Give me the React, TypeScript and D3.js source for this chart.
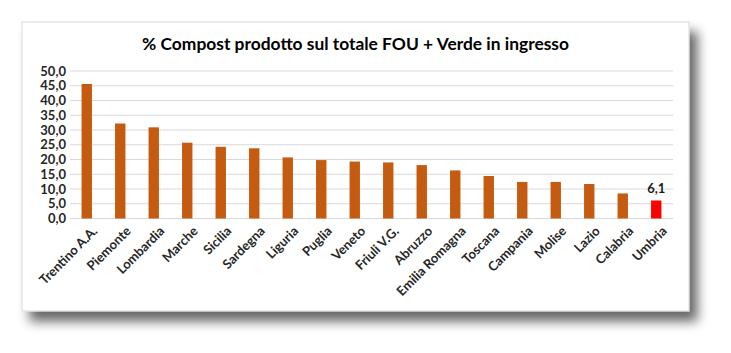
import React from "react";
import * as d3 from "d3";

const categories = [
  "Trentino A.A.", "Piemonte", "Lombardia", "Marche", "Sicilia", "Sardegna", "Liguria", "Puglia",
  "Veneto", "Friuli V.G.", "Abruzzo", "Emilia Romagna", "Toscana", "Campania", "Molise", "Lazio",
  "Calabria", "Umbria",
];
const values = [45.6, 32.2, 30.9, 25.7, 24.3, 23.8, 20.7, 19.8, 19.3, 19.0, 18.1, 16.3, 14.4, 12.4, 12.4, 11.7, 8.5, 6.1];
const highlighted = ["Umbria"];
const yTicks = [0, 5, 10, 15, 20, 25, 30, 35, 40, 45, 50];
const title = "% Compost prodotto sul totale FOU + Verde in ingresso";

const W = 731, H = 353;
const panel = { x: 22, y: 22, w: 667, h: 289 };
const plot = { left: 70, right: 673, top: 71, bottom: 218.5 };
const FONT = "Lato, 'Open Sans', sans-serif";
const fmt = (v: number) => v.toFixed(1).replace(".", ",");

export default function App() {
  const x = d3.scaleBand<string>().domain(categories).range([plot.left, plot.right]).paddingInner(0.69).paddingOuter(0.345);
  const y = d3.scaleLinear().domain([0, 50]).range([plot.bottom, plot.top]);
  return (
    <svg width={W} height={H} style={{ position: "absolute", left: 0, top: 0, background: "#fff" }}>
      <defs>
        <filter id="sh" x="-10%" y="-10%" width="125%" height="135%">
          <feGaussianBlur in="SourceAlpha" stdDeviation="6" />
          <feOffset dx="8" dy="10" result="b" />
          <feComponentTransfer>
            <feFuncA type="linear" slope="0.6" />
          </feComponentTransfer>
          <feMerge>
            <feMergeNode />
            <feMergeNode in="SourceGraphic" />
          </feMerge>
        </filter>
      </defs>
      <rect x={panel.x} y={panel.y} width={panel.w} height={panel.h} fill="#fff" stroke="#d9d9d9" strokeWidth={1} filter="url(#sh)" />
      <text x={panel.x + panel.w / 2} y={50} textAnchor="middle" fontFamily={FONT} fontWeight={700} fontSize={17.4} fill="#000">{title}</text>
      {yTicks.map((t) => (
        <g key={t}>
          <line x1={plot.left} x2={plot.right} y1={y(t)} y2={y(t)} stroke="#d9d9d9" strokeWidth={1} />
          <text x={66} y={y(t)} dy="0.35em" textAnchor="end" fontFamily={FONT} fontWeight={700} fontSize={13} fill="#262626">{fmt(t)}</text>
        </g>
      ))}
      {categories.map((c, i) => {
        const bx = x(c)!;
        const hl = highlighted.includes(c);
        return (
          <g key={c}>
            <rect x={bx} y={y(values[i])} width={x.bandwidth()} height={y(0) - y(values[i])} fill={hl ? "#ff0000" : "#c55a11"} />
            {hl && (
              <text x={bx + x.bandwidth() / 2} y={y(values[i]) - 8} textAnchor="middle" fontFamily={FONT} fontWeight={700} fontSize={13} fill="#1a1a1a">{fmt(values[i])}</text>
            )}
            <text transform={`translate(${bx + x.bandwidth() / 2 + 5},${plot.bottom + 7}) rotate(-45)`} textAnchor="end" dy="0.7em" fontFamily={FONT} fontWeight={700} fontSize={13} fill="#262626">{c}</text>
          </g>
        );
      })}
    </svg>
  );
}
